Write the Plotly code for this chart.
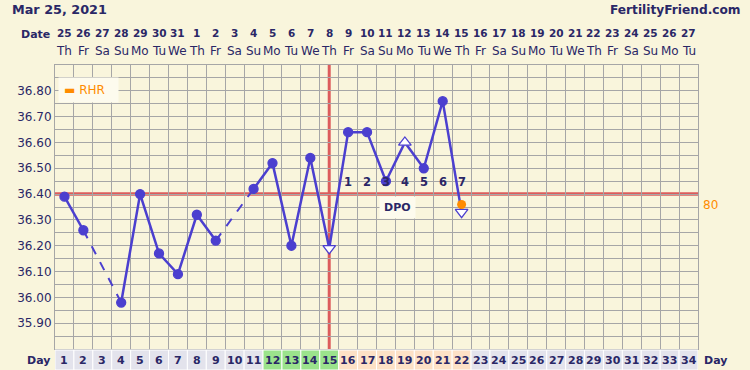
import plotly.graph_objects as go

# ---------------- data ----------------
cycle_days = [1, 2, 3, 4, 5, 6, 7, 8, 9, 10, 11, 12, 13, 14, 15, 16, 17,
              18, 19, 20, 21, 22, 23, 24, 25, 26, 27, 28, 29, 30, 31, 32, 33, 34]
date_nums = ["25", "26", "27", "28", "29", "30", "31", "1", "2", "3", "4", "5",
             "6", "7", "8", "9", "10", "11", "12", "13", "14", "15", "16", "17",
             "18", "19", "20", "21", "22", "23", "24", "25", "26", "27"]
weekdays = ["Th", "Fr", "Sa", "Su", "Mo", "Tu", "We", "Th", "Fr", "Sa", "Su", "Mo",
            "Tu", "We", "Th", "Fr", "Sa", "Su", "Mo", "Tu", "We", "Th", "Fr", "Sa",
            "Su", "Mo", "Tu", "We", "Th", "Fr", "Sa", "Su", "Mo", "Tu"]

temp_days = [1, 2, 3, 4, 5, 6, 7, 8, 9, 10, 11, 12, 13, 14, 15, 16, 17, 18, 19, 20, 21, 22]
temps = [36.39, 36.26, None, 35.98, 36.40, 36.17, 36.09, 36.32, 36.22, None, 36.42,
         36.52, 36.20, 36.54, 36.19, 36.64, 36.64, 36.45, 36.60, 36.50, 36.76, 36.33]
temp_marks = ["c", "c", "c", "c", "c", "c", "c", "c", "c", "c", "c",
              "c", "c", "c", "down", "c", "c", "c", "up", "c", "c", "down"]

rhr_days = [22]
rhr_vals = [80]

coverline = 36.40
ovulation_day = 15
fertile_days = [12, 13, 14, 15]
dpo_days = [16, 17, 18, 19, 20, 21, 22]
dpo_labels = ["1", "2", "3", "4", "5", "6", "7"]
y_tick_vals = [35.90, 36.00, 36.10, 36.20, 36.30, 36.40, 36.50, 36.60, 36.70, 36.80]
y_tick_text = ["35.90", "36.00", "36.10", "36.20", "36.30", "36.40", "36.50", "36.60", "36.70", "36.80"]

# ---------------- styles ----------------
BG = "#f9f5dc"
GRID = "#a6a6a6"
NAVY = "#2a2766"
LINE = "#4b3fcf"
RED = "#dc5c5c"
ORANGE = "#ff8c00"
BOX = "#fdfbee"
FONT = "DejaVu Sans"
PH = 284.0  # plot height px
PW = 643.0

fig = go.Figure()

# solid temperature line (gaps left open)
fig.add_trace(go.Scatter(x=temp_days, y=temps, mode="lines", connectgaps=False,
                         line=dict(color=LINE, width=2.5), hoverinfo="skip", showlegend=False))

# dashed bridges across missing days
for i, t in enumerate(temps):
    if t is None:
        j = i - 1
        while j >= 0 and temps[j] is None:
            j -= 1
        k = i + 1
        while k < len(temps) and temps[k] is None:
            k += 1
        if j >= 0 and k < len(temps) and (i == j + 1):
            fig.add_trace(go.Scatter(x=[temp_days[j], temp_days[k]], y=[temps[j], temps[k]],
                                     mode="lines", line=dict(color=LINE, width=2, dash="dash"),
                                     hoverinfo="skip", showlegend=False))

sym_map = {"c": "circle", "down": "triangle-down", "up": "triangle-up"}
mx, my, ms, mc, mz = [], [], [], [], []
for d, t, m in zip(temp_days, temps, temp_marks):
    if t is None:
        continue
    mx.append(d)
    my.append(t)
    ms.append(sym_map[m])
    mc.append(LINE if m == "c" else "#ffffff")
    mz.append(9 if m == "c" else 11)
fig.add_trace(go.Scatter(x=mx, y=my, mode="markers",
                         marker=dict(symbol=ms, size=mz, color=mc, opacity=1,
                                     line=dict(color=LINE, width=1.3)),
                         showlegend=False))

fig.add_trace(go.Scatter(x=rhr_days, y=rhr_vals, yaxis="y2", mode="markers",
                         marker=dict(color=ORANGE, size=9, opacity=1), showlegend=False))

shapes = []
# coverline and ovulation line
shapes.append(dict(type="line", xref="paper", yref="y", x0=0, x1=1, y0=coverline, y1=coverline,
                   line=dict(color=RED, width=3.5), layer="between"))
shapes.append(dict(type="line", xref="x", yref="paper", x0=ovulation_day, x1=ovulation_day,
                   y0=0, y1=1, line=dict(color=RED, width=3), layer="between"))

annotations = []
# day cells
for d in cycle_days:
    if d in fertile_days:
        fc = "#9be38c"
    elif d in dpo_days:
        fc = "#fde1c6"
    else:
        fc = "#e3e3ec"
    shapes.append(dict(type="rect", xref="x", yref="paper", x0=d - 0.5, x1=d + 0.5,
                       y0=-21 / PH, y1=-1 / PH, fillcolor=fc, line=dict(color="#ffffff", width=1),
                       layer="above"))
    annotations.append(dict(x=d, y=-11 / PH, xref="x", yref="paper", text="<b>%d</b>" % d,
                            showarrow=False, font=dict(family=FONT, size=11, color=NAVY),
                            yanchor="middle"))

# date row and weekday row
for d, dn, wd in zip(cycle_days, date_nums, weekdays):
    annotations.append(dict(x=d, y=1 + 32.5 / PH, xref="x", yref="paper", text="<b>%s</b>" % dn,
                            showarrow=False, font=dict(family=FONT, size=10.5, color=NAVY),
                            yanchor="middle"))
    annotations.append(dict(x=d, y=1 + 14 / PH, xref="x", yref="paper", text=wd,
                            showarrow=False, font=dict(family=FONT, size=12, color=NAVY),
                            yanchor="middle"))

# DPO labels
for d, lab in zip(dpo_days, dpo_labels):
    annotations.append(dict(x=d, y=36.445, xref="x", yref="y", text="<b>%s</b>" % lab,
                            showarrow=False, font=dict(family=FONT, size=11.5, color=NAVY),
                            yanchor="middle"))
annotations.append(dict(x=18.6, y=36.35, xref="x", yref="y", text="<b>DPO</b>", showarrow=False,
                        font=dict(family=FONT, size=11, color=NAVY), bgcolor=BOX,
                        borderpad=4, yanchor="middle"))

# legend box for RHR
annotations.append(dict(x=(58 - 55) / PW, y=1 - 25 / PH, xref="paper", yref="paper",
                        text="<span style='color:%s'>▬</span> RHR&nbsp;&nbsp;" % ORANGE, showarrow=False,
                        font=dict(family=FONT, size=12, color=ORANGE), bgcolor=BOX,
                        borderpad=5, xanchor="left", yanchor="middle"))

# texts
annotations.append(dict(x=(10 - 55) / PW, y=1 + 55 / PH, xref="paper", yref="paper",
                        text="<b>Mar 25, 2021</b>", showarrow=False,
                        font=dict(family=FONT, size=12.8, color=NAVY), xanchor="left", yanchor="middle"))
annotations.append(dict(x=(743 - 55) / PW, y=1 + 55 / PH, xref="paper", yref="paper",
                        text="<b>FertilityFriend.com</b>", showarrow=False,
                        font=dict(family=FONT, size=12.2, color=NAVY), xanchor="right", yanchor="middle"))
annotations.append(dict(x=(52 - 55) / PW, y=1 + 30 / PH, xref="paper", yref="paper",
                        text="<b>Date</b>", showarrow=False,
                        font=dict(family=FONT, size=11, color=NAVY), xanchor="right", yanchor="middle"))
annotations.append(dict(x=(52 - 55) / PW, y=-11 / PH, xref="paper", yref="paper",
                        text="<b>Day</b>", showarrow=False,
                        font=dict(family=FONT, size=11, color=NAVY), xanchor="right", yanchor="middle"))
annotations.append(dict(x=(702 - 55) / PW, y=-11 / PH, xref="paper", yref="paper",
                        text="<b>Day</b>", showarrow=False,
                        font=dict(family=FONT, size=11, color=NAVY), xanchor="left", yanchor="middle"))

fig.update_layout(
    width=750, height=370,
    margin=dict(l=55, r=52, t=65, b=21, pad=0),
    paper_bgcolor=BG, plot_bgcolor=BG,
    font=dict(family=FONT, color=NAVY),
    xaxis=dict(range=[0.5, 34.5], tick0=0.5, dtick=1, showticklabels=False, ticks="",
               showgrid=True, gridcolor=GRID, gridwidth=1, zeroline=False,
               showline=True, linecolor=GRID, linewidth=1, mirror=True, fixedrange=True),
    yaxis=dict(range=[35.80, 36.90], tickmode="array", tickvals=y_tick_vals, ticktext=y_tick_text,
               tickfont=dict(family=FONT, size=12, color=NAVY), ticks="",
               showgrid=True, gridcolor=GRID, gridwidth=1, zeroline=False,
               minor=dict(tickmode="linear", tick0=35.80, dtick=0.05, showgrid=True,
                          gridcolor=GRID, gridwidth=1, ticks=""),
               showline=True, linecolor=GRID, linewidth=1, mirror=True),
    yaxis2=dict(overlaying="y", side="right", range=[70, 89.65], tickmode="array",
                tickvals=rhr_vals, ticktext=[str(v) for v in rhr_vals],
                tickfont=dict(family=FONT, size=12, color=ORANGE), ticks="",
                ticklabelstandoff=4,
                showgrid=False, zeroline=False, showline=False),
    shapes=shapes,
    annotations=annotations,
    showlegend=False,
)

fig.write_html("out.html")
